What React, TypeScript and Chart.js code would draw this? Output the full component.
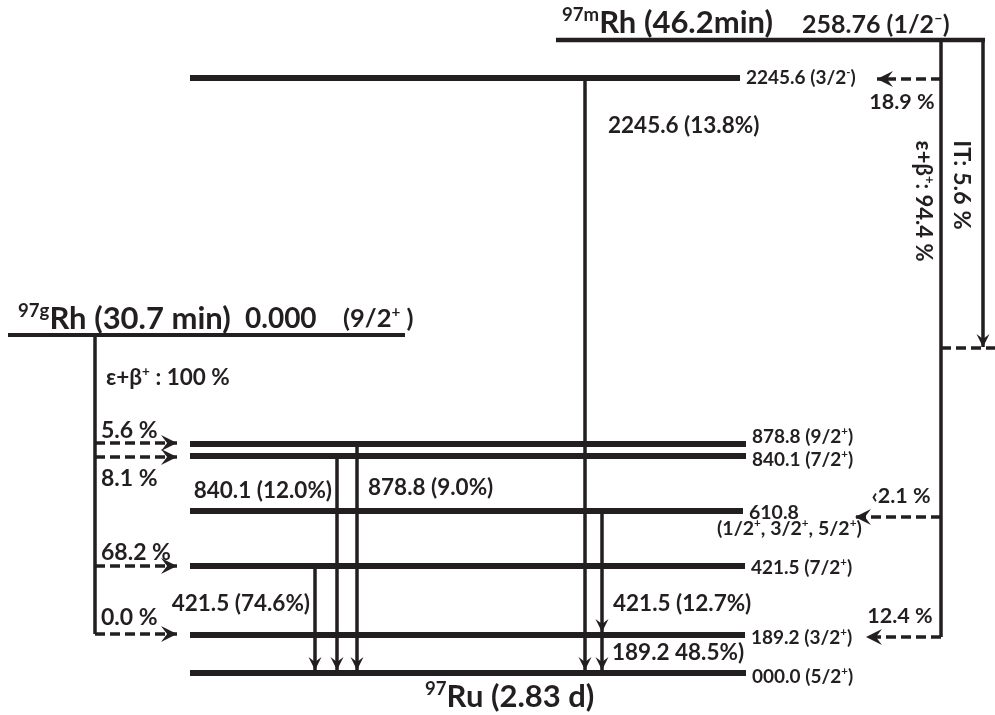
import { useEffect, useRef } from "react";
import { Chart, registerables } from "chart.js";

Chart.register(...registerables);

// Levels of the daughter nucleus 97Ru (keV) and their spins/parities
const levelEnergies = ["2245.6", "878.8", "840.1", "610.8", "421.5", "189.2", "000.0"];
const levelSpins = ["(3/2^{-})", "(9/2^{+})", "(7/2^{+})", "(1/2^{+}, 3/2^{+}, 5/2^{+})", "(7/2^{+})", "(3/2^{+})", "(5/2^{+})"];

// Gamma transitions (energy, intensity) between levels (indices into levelEnergies)
const gammaEnergies = ["2245.6", "878.8", "840.1", "421.5", "421.5", "189.2"];
const gammaIntensities = ["(13.8%)", "(9.0%)", "(12.0%)", "(74.6%)", "(12.7%)", "48.5%)"];
const gammaFromLevel = [0, 1, 2, 4, 3, 5];
const gammaToLevel = [6, 6, 6, 6, 5, 6];

// Feeding from the ground state 97gRh
const groundFeedLabels = ["5.6 %", "8.1 %", "68.2 %", "0.0 %"];
const groundFeedLevel = [1, 2, 4, 5];

// Feeding from the isomer 97mRh
const isomerFeedLabels = ["18.9 %", "\u20392.1 %", "12.4 %"];
const isomerFeedLevel = [0, 3, 5];

// Parent / daughter captions
const groundParentName = "^{97g}Rh (30.7 min)";
const groundParentEnergy = "0.000";
const groundParentSpin = "(9/2^{+} )";
const groundParentBranch = "\u03b5+\u03b2^{+} : 100 %";
const isomerName = "^{97m}Rh (46.2min)";
const isomerEnergy = "258.76 (1/2^{\u2013})";
const isomerECBranch = "\u03b5+\u03b2^{+}: 94.4 %";
const isomerITBranch = "IT: 5.6 %";
const daughterName = "^{97}Ru (2.83 d)";

// ---------------- layout (diagram units, y grows downward) ----------------
const W = 995;
const H = 715;
const INK = "#231f20";
const FONT = 'Lato, "Open Sans", "DejaVu Sans", sans-serif';

const LEVEL_Y = [78, 444, 456, 511, 566, 635, 673];
const LEVEL_X0 = 190;
const LEVEL_X1 = [740, 746, 746, 743, 745, 745, 746];
const LEVEL_LABEL_Y = [77, 436, 459, 512, 567, 637, 676];
const LEVEL_LABEL_DX = 6;

const GAMMA_X = [585, 357, 337, 315, 602, 602];
const GAMMA_LABEL_X = [608, 368, 332, 310, 613, 612];
const GAMMA_LABEL_Y = [125, 487, 490, 603, 603, 652];
const GAMMA_LABEL_ALIGN = ["left", "left", "right", "right", "left", "left"];

const GP_LINE = [8, 405, 335];
const GP_X = 95;
const GP_BOTTOM = 634;
const GROUND_FEED_Y = [443, 457, 566, 634];
const GROUND_FEED_TIP = 177;
const GROUND_FEED_LABEL_Y = [430, 478, 552, 617];
const GROUND_FEED_LABEL_X = 101;

const IS_LINE = [556, 985, 40];
const IS_EC_X = 941;
const IS_EC_BOTTOM = 637;
const IS_IT_X = 983;
const IS_IT_TIP = 347;
const IS_IT_DASH_Y = 348;
const ISOMER_FEED_Y = [79, 517, 637];
const ISOMER_FEED_TIP = [877, 855, 866];
const ISOMER_FEED_LABEL_X = [902, 901, 900];
const ISOMER_FEED_LABEL_Y = [101, 495, 615];

const DASH = [10, 5];

type Seg = { t: string; sup: boolean };
function parseRich(s: string): Seg[] {
  const out: Seg[] = [];
  const re = /\^\{([^}]*)\}/g;
  let last = 0;
  let m: RegExpExecArray | null;
  while ((m = re.exec(s))) {
    if (m.index > last) out.push({ t: s.slice(last, m.index), sup: false });
    out.push({ t: m[1], sup: true });
    last = re.lastIndex;
  }
  if (last < s.length) out.push({ t: s.slice(last), sup: false });
  return out;
}

function drawRich(ctx: CanvasRenderingContext2D, text: string, x: number, y: number, size: number, align: string) {
  const segs = parseRich(text);
  const widths = segs.map((sg) => {
    ctx.font = `bold ${sg.sup ? size * 0.6 : size}px ${FONT}`;
    return ctx.measureText(sg.t).width;
  });
  const total = widths.reduce((a, b) => a + b, 0);
  let cx = align === "left" ? x : align === "right" ? x - total : x - total / 2;
  const base = y + size * 0.36;
  ctx.textBaseline = "alphabetic";
  ctx.textAlign = "left";
  segs.forEach((sg, i) => {
    ctx.font = `bold ${sg.sup ? size * 0.6 : size}px ${FONT}`;
    ctx.fillText(sg.t, cx, sg.sup ? base - size * 0.4 : base);
    cx += widths[i];
  });
}

type Arrow = { len: number; half: number };
function seg(x0: number, y0: number, x1: number, y1: number, width: number, dash: number[] = [], arrow: Arrow | null = null) {
  return {
    data: [
      { x: x0, y: y0 },
      { x: x1, y: y1 },
    ],
    showLine: true,
    borderColor: INK,
    backgroundColor: INK,
    borderWidth: width,
    borderDash: dash,
    borderCapStyle: "butt",
    pointRadius: 0,
    pointHoverRadius: 0,
    clip: false,
    arrow,
  } as any;
}

const arrowPlugin = {
  id: "arrowheads",
  afterDatasetsDraw(chart: any) {
    const ctx: CanvasRenderingContext2D = chart.ctx;
    chart.data.datasets.forEach((ds: any, i: number) => {
      if (!ds.arrow) return;
      const pts = chart.getDatasetMeta(i).data;
      const a = pts[pts.length - 2];
      const b = pts[pts.length - 1];
      const ang = Math.atan2(b.y - a.y, b.x - a.x);
      const { len, half } = ds.arrow;
      ctx.save();
      ctx.translate(b.x, b.y);
      ctx.rotate(ang);
      ctx.fillStyle = INK;
      ctx.beginPath();
      ctx.moveTo(0, 0);
      ctx.lineTo(-len, -half);
      ctx.lineTo(-len * 0.62, 0);
      ctx.lineTo(-len, half);
      ctx.closePath();
      ctx.fill();
      ctx.restore();
    });
  },
};

const textPlugin = {
  id: "schemeText",
  afterDraw(chart: any) {
    const ctx: CanvasRenderingContext2D = chart.ctx;
    const sx = chart.scales.x;
    const sy = chart.scales.y;
    const px = (v: number) => sx.getPixelForValue(v);
    const py = (v: number) => sy.getPixelForValue(v);
    ctx.save();
    ctx.fillStyle = INK;

    // level labels
    levelEnergies.forEach((e, i) => {
      const x = px(LEVEL_X1[i] + LEVEL_LABEL_DX);
      if (i === 3) {
        drawRich(ctx, e, x, py(LEVEL_LABEL_Y[i]), 19.5, "left");
        drawRich(ctx, levelSpins[i], px(717), py(LEVEL_LABEL_Y[i] + 16), 19.5, "left");
      } else {
        drawRich(ctx, `${e} ${levelSpins[i]}`, x, py(LEVEL_LABEL_Y[i]), 19, "left");
      }
    });

    // gamma labels
    gammaEnergies.forEach((e, i) => {
      drawRich(ctx, `${e} ${gammaIntensities[i]}`, px(GAMMA_LABEL_X[i]), py(GAMMA_LABEL_Y[i]), 22.5, GAMMA_LABEL_ALIGN[i]);
    });

    // feeding labels
    groundFeedLabels.forEach((l, i) => {
      drawRich(ctx, l, px(GROUND_FEED_LABEL_X), py(GROUND_FEED_LABEL_Y[i]), 23, "left");
    });
    isomerFeedLabels.forEach((l, i) => {
      drawRich(ctx, l, px(ISOMER_FEED_LABEL_X[i]), py(ISOMER_FEED_LABEL_Y[i]), 21.5, "center");
    });

    // parents / daughter
    drawRich(ctx, isomerName, px(562), py(22), 31, "left");
    drawRich(ctx, isomerEnergy, px(802), py(24), 25, "left");
    drawRich(ctx, groundParentName, px(18), py(318), 31, "left");
    drawRich(ctx, groundParentEnergy, px(245), py(318), 28, "left");
    drawRich(ctx, groundParentSpin, px(343), py(318), 25.5, "left");
    drawRich(ctx, groundParentBranch, px(106), py(377), 22.5, "left");
    drawRich(ctx, daughterName, px(425), py(696), 31, "left");

    // rotated branch labels
    const rot = (text: string, x: number, y: number, size: number) => {
      ctx.save();
      ctx.translate(px(x), py(y));
      ctx.rotate(Math.PI / 2);
      drawRich(ctx, text, 0, 0, size, "center");
      ctx.restore();
    };
    rot(isomerECBranch, 924, 201, 22);
    rot(isomerITBranch, 962, 185, 23.5);
    ctx.restore();
  },
};

function buildDatasets() {
  const ds: any[] = [];
  const headBig = { len: 16, half: 8 };
  const headGamma = { len: 13, half: 6.5 };

  // isomer 97mRh
  ds.push(seg(IS_LINE[0], IS_LINE[2], IS_LINE[1], IS_LINE[2], 4.5));
  ds.push(seg(IS_IT_X, IS_LINE[2], IS_IT_X, IS_IT_TIP, 3.5, [], headGamma));
  ds.push(seg(IS_EC_X, IS_IT_DASH_Y, W, IS_IT_DASH_Y, 3.5, DASH));
  ds.push(seg(IS_EC_X, IS_LINE[2], IS_EC_X, IS_EC_BOTTOM, 3.5));
  isomerFeedLevel.forEach((_, i) => {
    ds.push(seg(IS_EC_X, ISOMER_FEED_Y[i], ISOMER_FEED_TIP[i], ISOMER_FEED_Y[i], 3.5, DASH, headBig));
  });

  // ground 97gRh
  ds.push(seg(GP_LINE[0], GP_LINE[2], GP_LINE[1], GP_LINE[2], 4));
  ds.push(seg(GP_X, GP_LINE[2], GP_X, GP_BOTTOM, 3.5));
  groundFeedLevel.forEach((_, i) => {
    ds.push(seg(GP_X, GROUND_FEED_Y[i], GROUND_FEED_TIP, GROUND_FEED_Y[i], 3.5, DASH, headBig));
  });

  // levels
  levelEnergies.forEach((_, i) => {
    ds.push(seg(LEVEL_X0, LEVEL_Y[i], LEVEL_X1[i], LEVEL_Y[i], 6));
  });

  // gamma transitions
  gammaEnergies.forEach((_, i) => {
    ds.push(seg(GAMMA_X[i], LEVEL_Y[gammaFromLevel[i]], GAMMA_X[i], LEVEL_Y[gammaToLevel[i]] - 3, 3.5, [], headGamma));
  });
  return ds;
}

export default function App() {
  const ref = useRef<HTMLCanvasElement | null>(null);
  useEffect(() => {
    if (!ref.current) return;
    const chart = new Chart(ref.current, {
      type: "scatter",
      data: { datasets: buildDatasets() },
      options: {
        animation: false,
        responsive: false,
        maintainAspectRatio: false,
        events: [],
        layout: { padding: 0 },
        plugins: { legend: { display: false }, tooltip: { enabled: false } },
        scales: {
          x: { type: "linear", min: 0, max: W, display: false },
          y: { type: "linear", min: 0, max: H, reverse: true, display: false },
        },
      } as any,
      plugins: [arrowPlugin, textPlugin],
    });
    return () => chart.destroy();
  }, []);
  return (
    <div style={{ position: "absolute", left: 0, top: 0, width: W, height: H, background: "#fff" }}>
      <canvas ref={ref} width={W} height={H} style={{ display: "block" }} />
    </div>
  );
}
